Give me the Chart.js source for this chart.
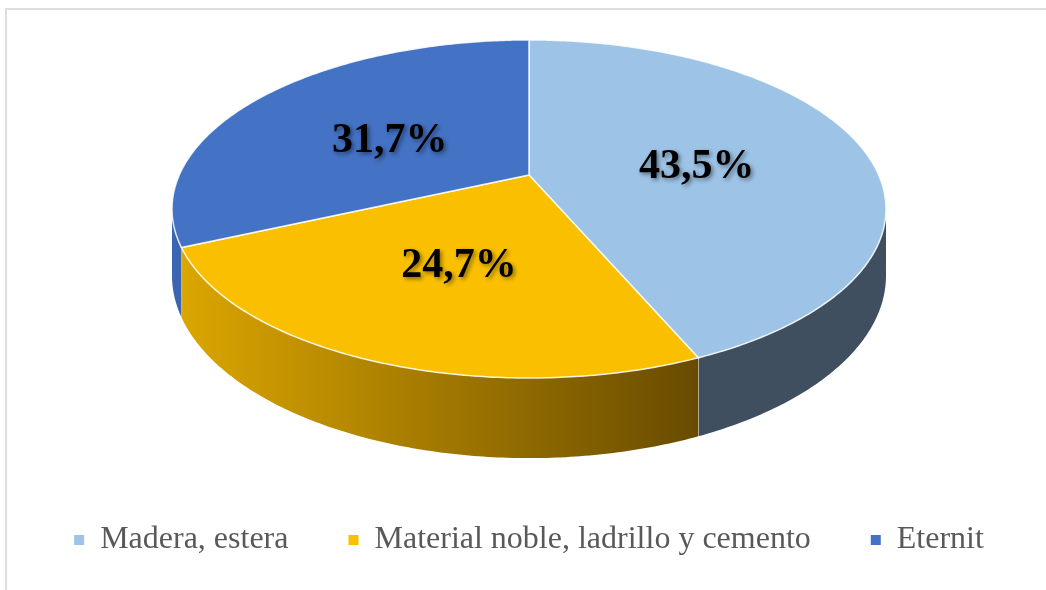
<!DOCTYPE html>
<html>
<head>
<meta charset="utf-8">
<script src="https://cdn.jsdelivr.net/npm/chart.js@4.4.1/dist/chart.umd.min.js"></script>
<style>
    body { margin: 0; background: #ffffff; }
    #wrap { position: relative; width: 1046px; height: 590px; }
    #frame {
        position: absolute; left: 5px; top: 8px; right: 0; bottom: 0;
        border-top: 2px solid #dedede; border-left: 2px solid #dedede;
    }
    canvas { position: absolute; left: 0; top: 0; }
</style>
</head>
<body>
<div id="wrap">
    <div id="frame"></div>
    <canvas id="materialChart" width="1046" height="590"></canvas>
</div>
<script>
const categories = ['Madera, estera', 'Material noble, ladrillo y cemento', 'Eternit'];
const shares = [43.5, 24.7, 31.7];

const topColors = ['#9dc3e6', '#fac000', '#4472c4'];
const sideColors = [['#3f4f5f', '#3f4f5f'], ['#dba600', '#684b00'], ['#3b64b2', '#3b64b2']];

// perspective view of the disc: hub position, radii, foreshortening and thickness
const view = { cx: 529, cy: 175, rx: 349.7, ry: 162.2, k: 0.201, depth: 64 };

function project(u, v, z) {
    const w = 1 - view.k * v;
    return [view.cx + view.rx * u / w, view.cy + (view.ry * v + z) / w];
}

function rimPoints(a0, a1, z, r) {
    const pts = [];
    const steps = Math.max(8, Math.ceil((a1 - a0) * 90));
    for (let i = 0; i <= steps; i++) {
        const a = a0 + (a1 - a0) * i / steps;
        pts.push(project(r * Math.cos(a), r * Math.sin(a), z));
    }
    return pts;
}

const pie3d = {
    id: 'pie3d',
    beforeDatasetsDraw(chart) {
        const ctx = chart.ctx;
        const arcs = chart.getDatasetMeta(0).data;
        const frontFrom = Math.asin(view.k);
        const frontTo = Math.PI - frontFrom;

        ctx.save();
        // outer walls, only the part facing the viewer
        arcs.forEach((arc, i) => {
            const s = Math.max(arc.startAngle, frontFrom);
            const e = Math.min(arc.endAngle, frontTo);
            if (s >= e) return;
            const top = rimPoints(s, e, 0, 1);
            const bottom = rimPoints(s, e, view.depth, 1).reverse();
            const xs = top.map(p => p[0]);
            const grad = ctx.createLinearGradient(Math.min(...xs), 0, Math.max(...xs), 0);
            grad.addColorStop(0, sideColors[i][0]);
            grad.addColorStop(1, sideColors[i][1]);
            ctx.beginPath();
            top.concat(bottom).forEach((p, j) => j ? ctx.lineTo(p[0], p[1]) : ctx.moveTo(p[0], p[1]));
            ctx.closePath();
            ctx.fillStyle = grad;
            ctx.fill();
            ctx.strokeStyle = 'rgba(255,255,255,0.7)';
            ctx.lineWidth = 1.2;
            ctx.beginPath();
            const a = project(Math.cos(e), Math.sin(e), 0);
            const b = project(Math.cos(e), Math.sin(e), view.depth);
            if (e < frontTo) { ctx.moveTo(a[0], a[1]); ctx.lineTo(b[0], b[1]); ctx.stroke(); }
        });

        // top faces
        arcs.forEach((arc, i) => {
            const pts = rimPoints(arc.startAngle, arc.endAngle, 0, 1);
            ctx.beginPath();
            ctx.moveTo(view.cx, view.cy);
            pts.forEach(p => ctx.lineTo(p[0], p[1]));
            ctx.closePath();
            ctx.fillStyle = topColors[i];
            ctx.fill();
            ctx.strokeStyle = 'rgba(255,255,255,0.85)';
            ctx.lineWidth = 1.5;
            ctx.stroke();
        });
        ctx.restore();
        return false;
    },
    afterDraw(chart) {
        const ctx = chart.ctx;
        const arcs = chart.getDatasetMeta(0).data;
        ctx.save();
        ctx.font = "bold 42px 'Liberation Serif', 'Times New Roman', serif";
        ctx.textAlign = 'center';
        ctx.textBaseline = 'middle';
        ctx.fillStyle = '#000000';
        ctx.shadowColor = 'rgba(0,0,0,0.45)';
        ctx.shadowBlur = 4;
        ctx.shadowOffsetX = 2;
        ctx.shadowOffsetY = 2;
        arcs.forEach((arc, i) => {
            const mid = (arc.startAngle + arc.endAngle) / 2;
            const p = project(0.5 * Math.cos(mid), 0.5 * Math.sin(mid), 0);
            ctx.fillText(shares[i].toFixed(1).replace('.', ',') + '%', p[0], p[1] + 8);
        });
        ctx.restore();
    },
};

new Chart(document.getElementById('materialChart'), {
    type: 'pie',
    data: {
        labels: categories,
        datasets: [{
            data: shares,
            backgroundColor: topColors,
            borderWidth: 0,
        }],
    },
    options: {
        responsive: false,
        animation: false,
        layout: { padding: { left: 12, right: 0, top: 20, bottom: 24 } },
        plugins: {
            legend: {
                position: 'bottom',
                labels: {
                    boxWidth: 10,
                    boxHeight: 10,
                    padding: 60,
                    color: '#595959',
                    font: { family: "'Liberation Serif', 'Times New Roman', serif", size: 32 },
                },
            },
            tooltip: { enabled: false },
        },
    },
    plugins: [pie3d],
});
</script>
</body>
</html>
